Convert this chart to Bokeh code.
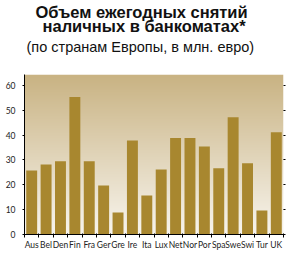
import numpy as np
from bokeh.plotting import figure
from bokeh.models import FixedTicker, LinearAxis, Title, Range1d
from bokeh.embed import file_html
from bokeh.resources import INLINE

countries = ["Aus", "Bel", "Den", "Fin", "Fra", "Ger", "Gre", "Ire", "Ita",
             "Lux", "Net", "Nor", "Por", "Spa", "Swe", "Swi", "Tur", "UK"]
values = [25.8, 28.2, 29.5, 55.3, 29.5, 19.7, 8.9, 37.8, 15.7,
          26.2, 38.8, 38.8, 35.4, 26.7, 47.2, 28.7, 9.7, 41.2]
y_ticks = [0, 10, 20, 30, 40, 50, 60]
grid_ticks = [10, 20, 30, 40, 50]

title_1 = "Объем ежегодных снятий"
title_2 = "наличных в банкоматах*"
subtitle = "(по странам Европы, в млн. евро)"

n = len(countries)
centers = [i + 0.5 for i in range(n)]
bounds = list(range(n + 1))
y_top = 64.4

p = figure(width=295, height=262, output_backend="svg", toolbar_location=None,
           x_range=Range1d(0, n), y_range=Range1d(0, y_top),
           min_border_left=24, min_border_right=12, min_border_top=74,
           min_border_bottom=28, title_location=None, tools="")
p.background_fill_color = "white"
p.border_fill_color = "white"
p.outline_line_color = None

# gradient background (styling)
rows = 160
top = np.array([201, 179, 131])
bot = np.array([248, 245, 238])
img = np.zeros((rows, 1), dtype=np.uint32)
view = img.view(dtype=np.uint8).reshape((rows, 1, 4))
for r in range(rows):
    f = r / (rows - 1)  # r=0 is bottom
    c = bot + (top - bot) * f
    view[r, 0, 0] = int(c[0]); view[r, 0, 1] = int(c[1]); view[r, 0, 2] = int(c[2]); view[r, 0, 3] = 255
p.image_rgba(image=[img], x=0, y=0, dw=n, dh=y_top)

p.vbar(x=centers, top=values, width=0.76, fill_color="#a8872f", line_color=None)

lab_font = "Lato"

xa = p.xaxis[0]
xa.ticker = FixedTicker(ticks=centers, minor_ticks=bounds)
xa.major_label_overrides = {c: name for c, name in zip(centers, countries)}
xa.major_tick_line_color = None
xa.major_tick_in = 0
xa.major_tick_out = 3
xa.minor_tick_in = 1
xa.minor_tick_out = 3
xa.minor_tick_line_color = "black"
xa.axis_line_color = "black"
xa.major_label_text_font = lab_font
xa.major_label_text_font_size = "8.5px"
xa.major_label_text_color = "#222222"
xa.major_label_standoff = 2

ya = p.yaxis[0]
ya.ticker = FixedTicker(ticks=y_ticks, minor_ticks=[])
ya.major_tick_in = 0
ya.major_tick_out = 2
ya.axis_line_color = "black"
ya.major_label_text_font = lab_font
ya.major_label_text_font_size = "8.5px"
ya.major_label_text_color = "#222222"
ya.major_label_standoff = 7

ra = LinearAxis(ticker=FixedTicker(ticks=y_ticks, minor_ticks=[]))
ra.axis_line_color = None
ra.major_tick_in = 0
ra.major_tick_out = 2
ra.major_label_text_alpha = 0
ra.major_label_text_font_size = "1px"
p.add_layout(ra, "right")

p.xgrid.grid_line_color = None
p.ygrid.ticker = FixedTicker(ticks=grid_ticks, minor_ticks=[])
p.ygrid.grid_line_color = "black"
p.ygrid.grid_line_width = 1.2

# spacer, subtitle, title lines (stacked upward from the frame)
p.add_layout(Title(text=" ", text_font_size="1px", standoff=15), "above")
for txt, size, style, so, off in [(subtitle, "14.5px", "normal", 4, 2),
                                  (title_2, "16.5px", "bold", 0, 18),
                                  (title_1, "16.5px", "bold", -12, 11)]:
    t = Title(text=txt, align="left", offset=off, text_font="Liberation Sans",
              text_font_size=size, text_font_style=style, text_color="#111111",
              standoff=so)
    p.add_layout(t, "above")

open("out.html", "w").write(file_html(p, INLINE))
